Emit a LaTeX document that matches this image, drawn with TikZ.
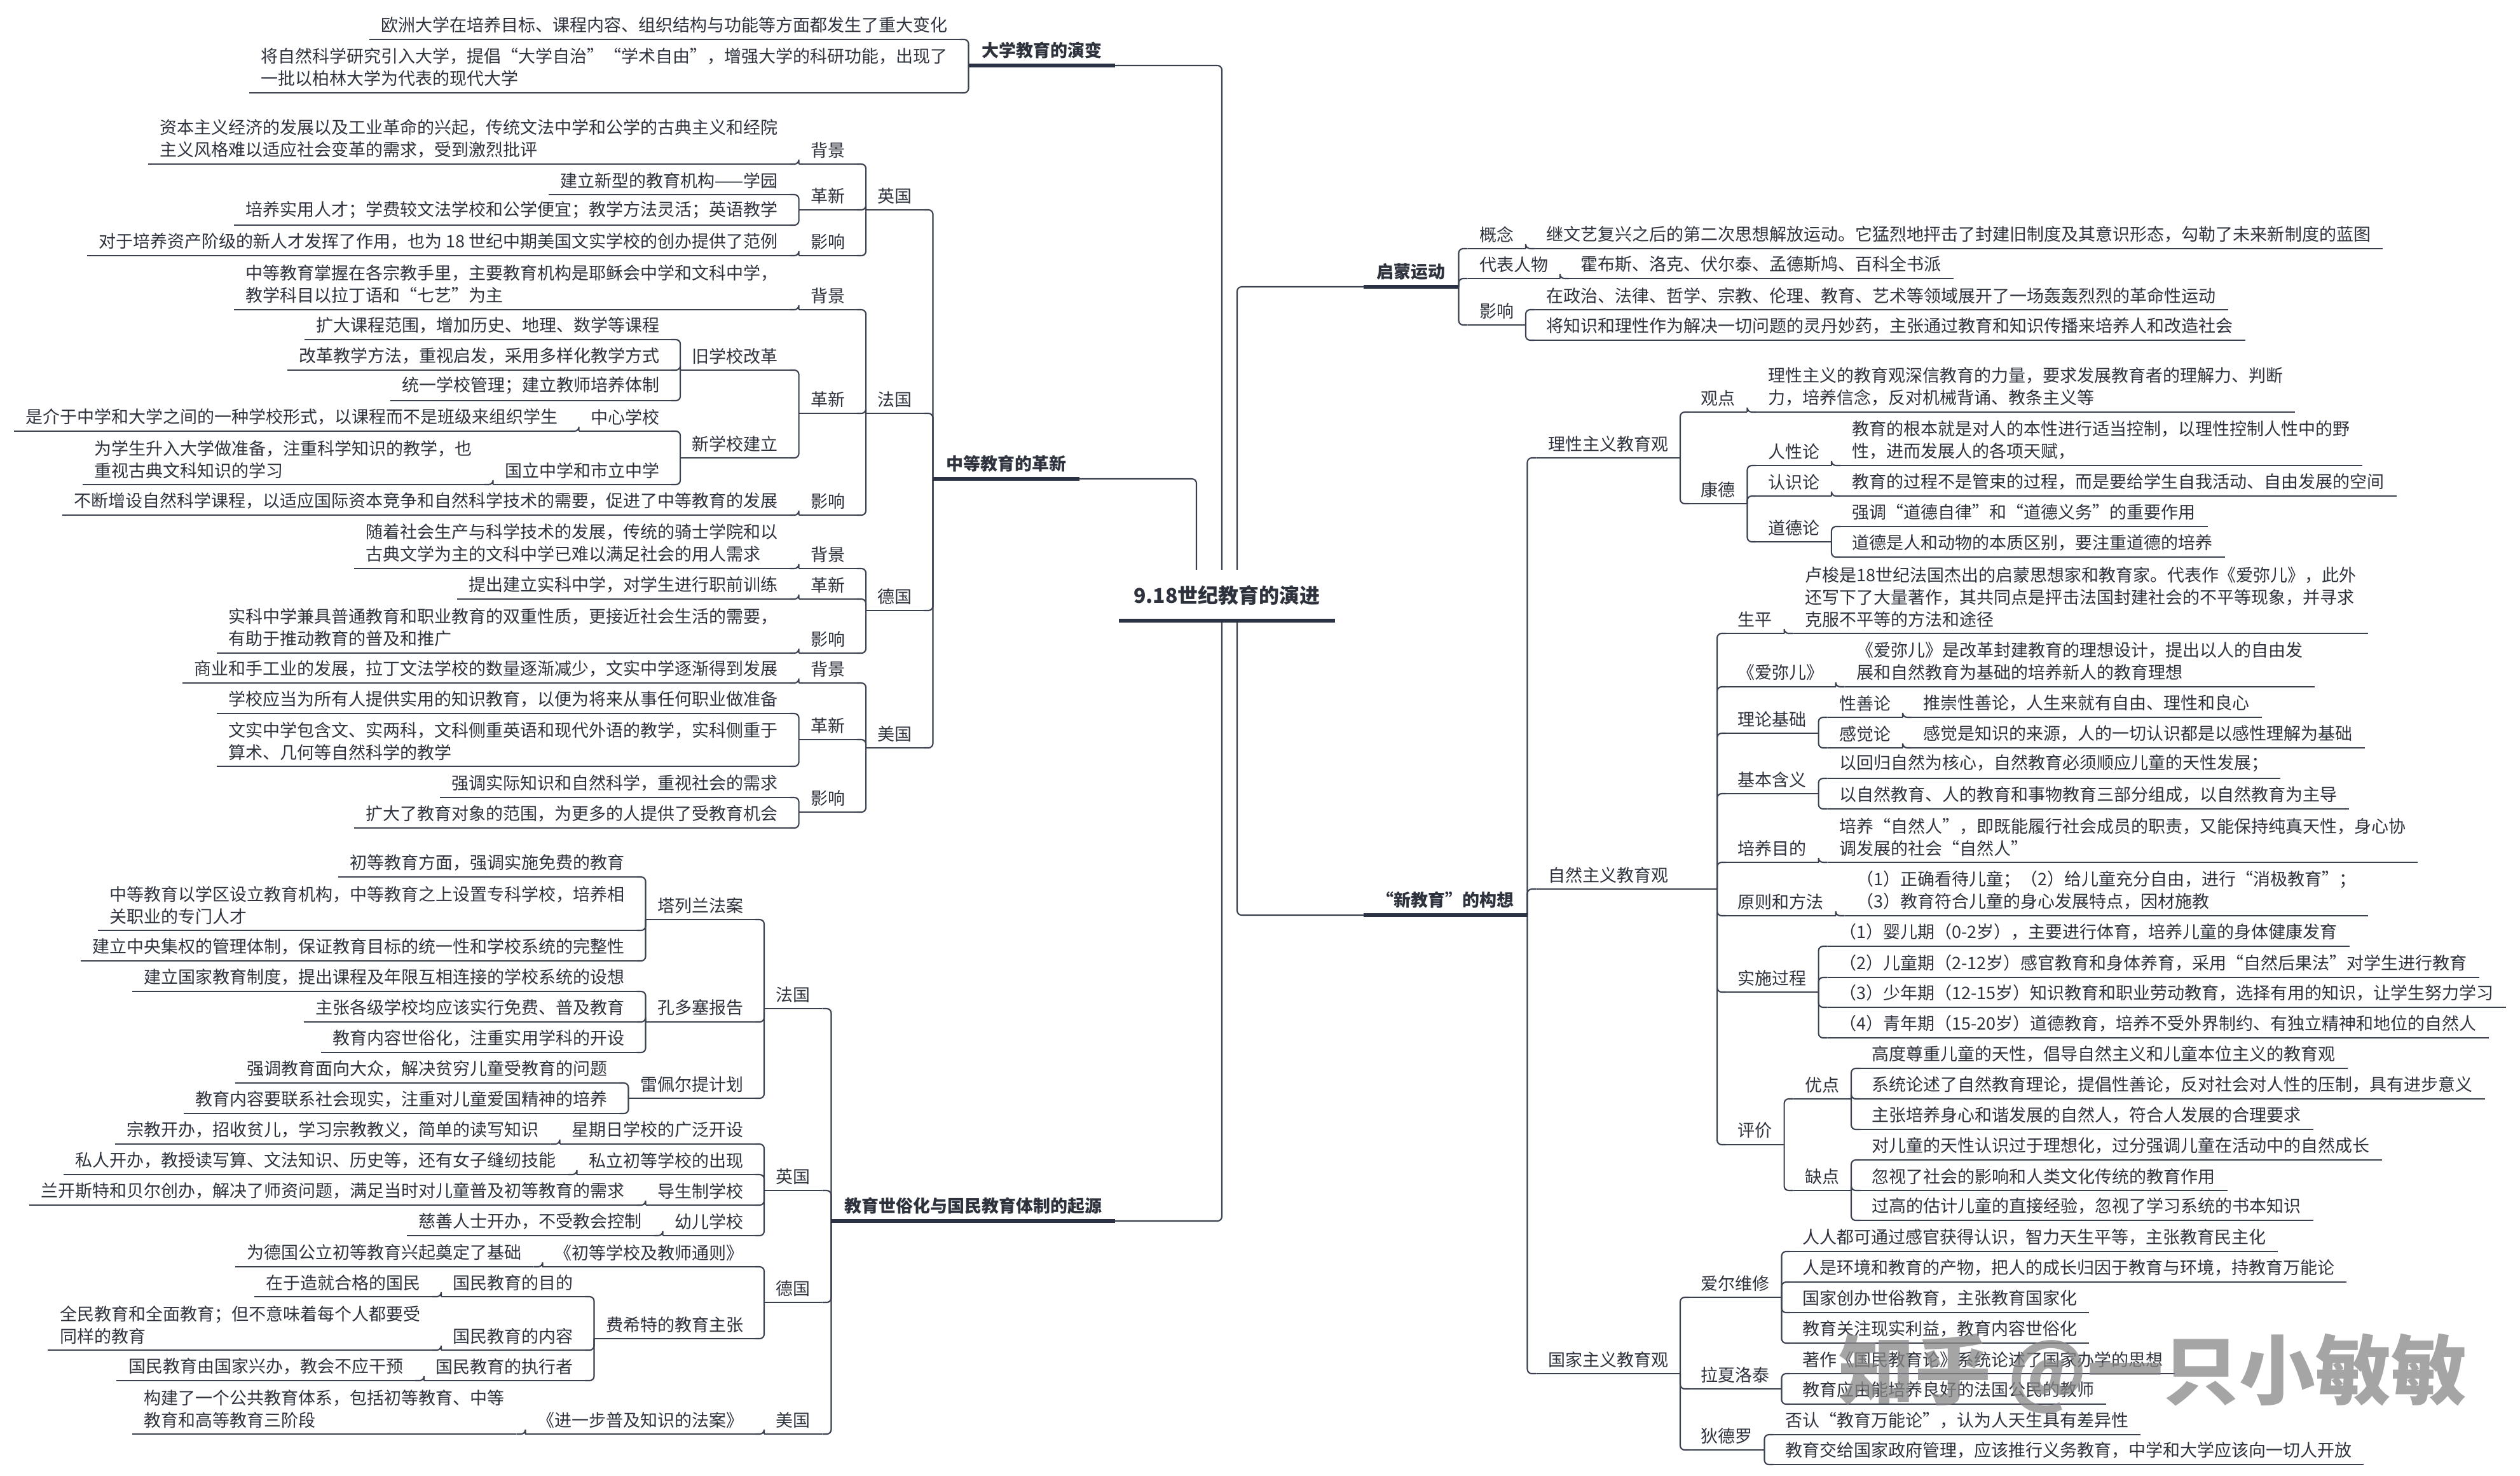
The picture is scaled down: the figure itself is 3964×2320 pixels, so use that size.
\documentclass[tikz,border=0pt]{standalone}
\usepackage{fontspec}
\setmainfont{Noto Sans CJK SC}
\usepackage{xcolor}
\definecolor{InkDark}  {RGB}{46, 50, 60}
\definecolor{LineDark} {RGB}{58, 64, 78}
\definecolor{BarNavy}  {RGB}{42, 50, 68}
\definecolor{MarkGray} {RGB}{135,135,135}
\usepackage{tikz}
\usetikzlibrary{positioning, backgrounds}

\begin{document}
\begin{tikzpicture}[
  x=0.01cm, y=-0.01cm,
  font=\fontsize{7.68pt}{9.96pt}\selectfont,
  text=InkDark,
  link/.style={draw=LineDark, line width=0.6pt, rounded corners=2pt},
  uline/.style={append after command={(\tikzlastnode.south west) edge[link] (\tikzlastnode.south east)}},
  ubar/.style={append after command={(\tikzlastnode.south west) edge[draw=BarNavy, line width=1.7pt] (\tikzlastnode.south east)}},
  lf/.style={anchor=south east, xshift=-0.14cm, inner xsep=0.18cm, inner ysep=0.09cm, align=left, uline},
  rt/.style={anchor=south west, xshift=0.14cm, inner xsep=0.18cm, inner ysep=0.09cm, align=left, uline},
  lhead/.style={anchor=south east, inner xsep=0.2cm, inner ysep=0.1cm,
    font=\bfseries\fontsize{7.68pt}{9.96pt}\selectfont, ubar},
  rhead/.style={anchor=south west, inner xsep=0.2cm, inner ysep=0.1cm,
    font=\bfseries\fontsize{7.68pt}{9.96pt}\selectfont, ubar},
  hub/.style={anchor=south, fill=white, minimum width=3.39cm, minimum height=0.79cm,
    font=\bfseries\fontsize{9.1pt}{11pt}\selectfont, ubar},
  wmark/.style={anchor=west, text=MarkGray, text opacity=0.75,
    font=\bfseries\fontsize{34pt}{40pt}\selectfont}
]
\useasboundingbox (0,0) rectangle (3964,2320);

% 中心主题
\node[hub] (root) at (1930,976) {9.18世纪教育的演进};

\node[lhead] (uni) at (1754,103) {大学教育的演变};
\node[lhead] (sec) at (1698,753) {中等教育的革新};
\node[lhead] (sys) at (1754,1920) {教育世俗化与国民教育体制的起源};
\node[rhead] (enl) at (2145,451) {启蒙运动};
\node[rhead, minimum width=2.55cm] (neo) at (2145,1439) {“新教育”的构想};

% 大学教育的演变
\node[lf] (uni1) at (uni.south west |- 0,62) {欧洲大学在培养目标、课程内容、组织结构与功能等方面都发生了重大变化};
\node[lf] (uni2) at (uni.south west |- 0,146) {将自然科学研究引入大学，提倡“大学自治”“学术自由”，增强大学的科研功能，出现了\\一批以柏林大学为代表的现代大学};

% 中等教育的革新：英国
\node[lf] (sEn) at (sec.south west |- 0,330) {英国};
\node[lf] (sEnBg) at (sEn.south west |- 0,258) {背景};
\node[lf] (sEnBg1) at (sEnBg.south west |- 0,258) {资本主义经济的发展以及工业革命的兴起，传统文法中学和公学的古典主义和经院\\主义风格难以适应社会变革的需求，受到激烈批评};
\node[lf] (sEnRf) at (sEn.south west |- 0,330) {革新};
\node[lf] (sEnRf1) at (sEnRf.south west |- 0,306) {建立新型的教育机构——学园};
\node[lf] (sEnRf2) at (sEnRf.south west |- 0,354) {培养实用人才；学费较文法学校和公学便宜；教学方法灵活；英语教学};
\node[lf] (sEnEf) at (sEn.south west |- 0,402) {影响};
\node[lf] (sEnEf1) at (sEnEf.south west |- 0,402) {对于培养资产阶级的新人才发挥了作用，也为 18 世纪中期美国文实学校的创办提供了范例};

% 中等教育的革新：法国
\node[lf] (sFr) at (sec.south west |- 0,650) {法国};
\node[lf] (sFrBg) at (sFr.south west |- 0,487) {背景};
\node[lf] (sFrBg1) at (sFrBg.south west |- 0,487) {中等教育掌握在各宗教手里，主要教育机构是耶稣会中学和文科中学，\\教学科目以拉丁语和“七艺”为主};
\node[lf] (sFrRf) at (sFr.south west |- 0,650) {革新};
\node[lf] (sFrOld) at (sFrRf.south west |- 0,582) {旧学校改革};
\node[lf] (sFrOld1) at (sFrOld.south west |- 0,534) {扩大课程范围，增加历史、地理、数学等课程};
\node[lf] (sFrOld2) at (sFrOld.south west |- 0,582) {改革教学方法，重视启发，采用多样化教学方式};
\node[lf] (sFrOld3) at (sFrOld.south west |- 0,630) {统一学校管理；建立教师培养体制};
\node[lf] (sFrNew) at (sFrRf.south west |- 0,720) {新学校建立};
\node[lf] (sFrCen) at (sFrNew.south west |- 0,678) {中心学校};
\node[lf] (sFrCen1) at (sFrCen.south west |- 0,678) {是介于中学和大学之间的一种学校形式，以课程而不是班级来组织学生};
\node[lf] (sFrNat) at (sFrNew.south west |- 0,762) {国立中学和市立中学};
\node[lf] (sFrNat1) at (sFrNat.south west |- 0,762) {为学生升入大学做准备，注重科学知识的教学，也\\重视古典文科知识的学习};
\node[lf] (sFrEf) at (sFr.south west |- 0,810) {影响};
\node[lf] (sFrEf1) at (sFrEf.south west |- 0,810) {不断增设自然科学课程，以适应国际资本竞争和自然科学技术的需要，促进了中等教育的发展};

% 中等教育的革新：德国
\node[lf] (sDe) at (sec.south west |- 0,960) {德国};
\node[lf] (sDeBg) at (sDe.south west |- 0,894) {背景};
\node[lf] (sDeBg1) at (sDeBg.south west |- 0,894) {随着社会生产与科学技术的发展，传统的骑士学院和以\\古典文学为主的文科中学已难以满足社会的用人需求};
\node[lf] (sDeRf) at (sDe.south west |- 0,942) {革新};
\node[lf] (sDeRf1) at (sDeRf.south west |- 0,942) {提出建立实科中学，对学生进行职前训练};
\node[lf] (sDeEf) at (sDe.south west |- 0,1027) {影响};
\node[lf] (sDeEf1) at (sDeEf.south west |- 0,1027) {实科中学兼具普通教育和职业教育的双重性质，更接近社会生活的需要，\\有助于推动教育的普及和推广};

% 中等教育的革新：美国
\node[lf] (sUs) at (sec.south west |- 0,1176) {美国};
\node[lf] (sUsBg) at (sUs.south west |- 0,1074) {背景};
\node[lf] (sUsBg1) at (sUsBg.south west |- 0,1074) {商业和手工业的发展，拉丁文法学校的数量逐渐减少，文实中学逐渐得到发展};
\node[lf] (sUsRf) at (sUs.south west |- 0,1163) {革新};
\node[lf] (sUsRf1) at (sUsRf.south west |- 0,1122) {学校应当为所有人提供实用的知识教育，以便为将来从事任何职业做准备};
\node[lf] (sUsRf2) at (sUsRf.south west |- 0,1205) {文实中学包含文、实两科，文科侧重英语和现代外语的教学，实科侧重于\\算术、几何等自然科学的教学};
\node[lf] (sUsEf) at (sUs.south west |- 0,1277) {影响};
\node[lf] (sUsEf1) at (sUsEf.south west |- 0,1254) {强调实际知识和自然科学，重视社会的需求};
\node[lf] (sUsEf2) at (sUsEf.south west |- 0,1302) {扩大了教育对象的范围，为更多的人提供了受教育机会};

% 教育世俗化：法国
\node[lf] (nFr) at (sys.south west |- 0,1586) {法国};
\node[lf] (nFrTal) at (nFr.south west |- 0,1446) {塔列兰法案};
\node[lf] (nFrTal1) at (nFrTal.south west |- 0,1379) {初等教育方面，强调实施免费的教育};
\node[lf] (nFrTal2) at (nFrTal.south west |- 0,1463) {中等教育以学区设立教育机构，中等教育之上设置专科学校，培养相\\关职业的专门人才};
\node[lf] (nFrTal3) at (nFrTal.south west |- 0,1511) {建立中央集权的管理体制，保证教育目标的统一性和学校系统的完整性};
\node[lf] (nFrCon) at (nFr.south west |- 0,1607) {孔多塞报告};
\node[lf] (nFrCon1) at (nFrCon.south west |- 0,1559) {建立国家教育制度，提出课程及年限互相连接的学校系统的设想};
\node[lf] (nFrCon2) at (nFrCon.south west |- 0,1607) {主张各级学校均应该实行免费、普及教育};
\node[lf] (nFrCon3) at (nFrCon.south west |- 0,1655) {教育内容世俗化，注重实用学科的开设};
\node[lf] (nFrLep) at (nFr.south west |- 0,1727) {雷佩尔提计划};
\node[lf] (nFrLep1) at (nFrLep.south west |- 0,1703) {强调教育面向大众，解决贫穷儿童受教育的问题};
\node[lf] (nFrLep2) at (nFrLep.south west |- 0,1751) {教育内容要联系社会现实，注重对儿童爱国精神的培养};

% 教育世俗化：英国
\node[lf] (nEn) at (sys.south west |- 0,1872) {英国};
\node[lf] (nEnSun) at (nEn.south west |- 0,1799) {星期日学校的广泛开设};
\node[lf] (nEnSun1) at (nEnSun.south west |- 0,1799) {宗教开办，招收贫儿，学习宗教教义，简单的读写知识};
\node[lf] (nEnPri) at (nEn.south west |- 0,1847) {私立初等学校的出现};
\node[lf] (nEnPri1) at (nEnPri.south west |- 0,1847) {私人开办，教授读写算、文法知识、历史等，还有女子缝纫技能};
\node[lf] (nEnMon) at (nEn.south west |- 0,1895) {导生制学校};
\node[lf] (nEnMon1) at (nEnMon.south west |- 0,1895) {兰开斯特和贝尔创办，解决了师资问题，满足当时对儿童普及初等教育的需求};
\node[lf] (nEnInf) at (nEn.south west |- 0,1943) {幼儿学校};
\node[lf] (nEnInf1) at (nEnInf.south west |- 0,1943) {慈善人士开办，不受教会控制};

% 教育世俗化：德国、美国
\node[lf] (nDe) at (sys.south west |- 0,2048) {德国};
\node[lf] (nDeReg) at (nDe.south west |- 0,1992) {《初等学校及教师通则》};
\node[lf] (nDeReg1) at (nDeReg.south west |- 0,1992) {为德国公立初等教育兴起奠定了基础};
\node[lf] (nDeFi) at (nDe.south west |- 0,2105) {费希特的教育主张};
\node[lf] (nDeFiA) at (nDeFi.south west |- 0,2039) {国民教育的目的};
\node[lf] (nDeFiA1) at (nDeFiA.south west |- 0,2039) {在于造就合格的国民};
\node[lf] (nDeFiB) at (nDeFi.south west |- 0,2123) {国民教育的内容};
\node[lf] (nDeFiB1) at (nDeFiB.south west |- 0,2123) {全民教育和全面教育；但不意味着每个人都要受\\同样的教育};
\node[lf] (nDeFiC) at (nDeFi.south west |- 0,2171) {国民教育的执行者};
\node[lf] (nDeFiC1) at (nDeFiC.south west |- 0,2171) {国民教育由国家兴办，教会不应干预};
\node[lf] (nUs) at (sys.south west |- 0,2255) {美国};
\node[lf] (nUsAct) at (nUs.south west |- 0,2255) {《进一步普及知识的法案》};
\node[lf] (nUsAct1) at (nUsAct.south west |- 0,2255) {构建了一个公共教育体系，包括初等教育、中等\\教育和高等教育三阶段};

% 启蒙运动
\node[rt] (enlC) at (enl.south east |- 0,391) {概念};
\node[rt] (enlC1) at (enlC.south east |- 0,391) {继文艺复兴之后的第二次思想解放运动。它猛烈地抨击了封建旧制度及其意识形态，勾勒了未来新制度的蓝图};
\node[rt] (enlP) at (enl.south east |- 0,438) {代表人物};
\node[rt] (enlP1) at (enlP.south east |- 0,438) {霍布斯、洛克、伏尔泰、孟德斯鸠、百科全书派};
\node[rt] (enlI) at (enl.south east |- 0,511) {影响};
\node[rt] (enlI1) at (enlI.south east |- 0,487) {在政治、法律、哲学、宗教、伦理、教育、艺术等领域展开了一场轰轰烈烈的革命性运动};
\node[rt] (enlI2) at (enlI.south east |- 0,535) {将知识和理性作为解决一切问题的灵丹妙药，主张通过教育和知识传播来培养人和改造社会};

% 理性主义教育观
\node[rt] (rat) at (neo.south east |- 0,720) {理性主义教育观};
\node[rt] (ratV) at (rat.south east |- 0,648) {观点};
\node[rt] (ratV1) at (ratV.south east |- 0,648) {理性主义的教育观深信教育的力量，要求发展教育者的理解力、判断\\力，培养信念，反对机械背诵、教条主义等};
\node[rt] (ratK) at (rat.south east |- 0,792) {康德};
\node[rt] (ratKh) at (ratK.south east |- 0,732) {人性论};
\node[rt] (ratKh1) at (ratKh.south east |- 0,732) {教育的根本就是对人的本性进行适当控制，以理性控制人性中的野\\性，进而发展人的各项天赋，};
\node[rt] (ratKe) at (ratK.south east |- 0,780) {认识论};
\node[rt] (ratKe1) at (ratKe.south east |- 0,780) {教育的过程不是管束的过程，而是要给学生自我活动、自由发展的空间};
\node[rt] (ratKm) at (ratK.south east |- 0,852) {道德论};
\node[rt] (ratKm1) at (ratKm.south east |- 0,828) {强调“道德自律”和“道德义务”的重要作用};
\node[rt] (ratKm2) at (ratKm.south east |- 0,876) {道德是人和动物的本质区别，要注重道德的培养};

% 自然主义教育观
\node[rt, text width=2.47cm] (nat) at (neo.south east |- 0,1398) {自然主义教育观};
\node[rt] (natL) at (nat.south east |- 0,996) {生平};
\node[rt] (natL1) at (natL.south east |- 0,996) {卢梭是18世纪法国杰出的启蒙思想家和教育家。代表作《爱弥儿》，此外\\还写下了大量著作，其共同点是抨击法国封建社会的不平等现象，并寻求\\克服不平等的方法和途径};
\node[rt] (natE) at (nat.south east |- 0,1080) {《爱弥儿》};
\node[rt] (natE1) at (natE.south east |- 0,1080) {《爱弥儿》是改革封建教育的理想设计，提出以人的自由发\\展和自然教育为基础的培养新人的教育理想};
\node[rt] (natT) at (nat.south east |- 0,1153) {理论基础};
\node[rt] (natTg) at (natT.south east |- 0,1128) {性善论};
\node[rt] (natTg1) at (natTg.south east |- 0,1128) {推崇性善论，人生来就有自由、理性和良心};
\node[rt] (natTs) at (natT.south east |- 0,1176) {感觉论};
\node[rt] (natTs1) at (natTs.south east |- 0,1176) {感觉是知识的来源，人的一切认识都是以感性理解为基础};
\node[rt] (natM) at (nat.south east |- 0,1248) {基本含义};
\node[rt] (natM1) at (natM.south east |- 0,1224) {以回归自然为核心，自然教育必须顺应儿童的天性发展；};
\node[rt] (natM2) at (natM.south east |- 0,1272) {以自然教育、人的教育和事物教育三部分组成，以自然教育为主导};
\node[rt] (natG) at (nat.south east |- 0,1356) {培养目的};
\node[rt] (natG1) at (natG.south east |- 0,1356) {培养“自然人”，即既能履行社会成员的职责，又能保持纯真天性，身心协\\调发展的社会“自然人”};
\node[rt] (natP) at (nat.south east |- 0,1440) {原则和方法};
\node[rt] (natP1) at (natP.south east |- 0,1440) {（1）正确看待儿童；（2）给儿童充分自由，进行“消极教育”；\\（3）教育符合儿童的身心发展特点，因材施教};
\node[rt] (natI) at (nat.south east |- 0,1560) {实施过程};
\node[rt] (natI1) at (natI.south east |- 0,1488) {（1）婴儿期（0-2岁），主要进行体育，培养儿童的身体健康发育};
\node[rt] (natI2) at (natI.south east |- 0,1537) {（2）儿童期（2-12岁）感官教育和身体养育，采用“自然后果法”对学生进行教育};
\node[rt] (natI3) at (natI.south east |- 0,1584) {（3）少年期（12-15岁）知识教育和职业劳动教育，选择有用的知识，让学生努力学习};
\node[rt] (natI4) at (natI.south east |- 0,1632) {（4）青年期（15-20岁）道德教育，培养不受外界制约、有独立精神和地位的自然人};
\node[rt] (natR) at (nat.south east |- 0,1800) {评价};
\node[rt] (natRp) at (natR.south east |- 0,1728) {优点};
\node[rt] (natRp1) at (natRp.south east |- 0,1680) {高度尊重儿童的天性，倡导自然主义和儿童本位主义的教育观};
\node[rt] (natRp2) at (natRp.south east |- 0,1728) {系统论述了自然教育理论，提倡性善论，反对社会对人性的压制，具有进步意义};
\node[rt] (natRp3) at (natRp.south east |- 0,1776) {主张培养身心和谐发展的自然人，符合人发展的合理要求};
\node[rt] (natRn) at (natR.south east |- 0,1872) {缺点};
\node[rt] (natRn1) at (natRn.south east |- 0,1824) {对儿童的天性认识过于理想化，过分强调儿童在活动中的自然成长};
\node[rt] (natRn2) at (natRn.south east |- 0,1872) {忽视了社会的影响和人类文化传统的教育作用};
\node[rt] (natRn3) at (natRn.south east |- 0,1919) {过高的估计儿童的直接经验，忽视了学习系统的书本知识};

% 国家主义教育观
\node[rt] (sta) at (neo.south east |- 0,2160) {国家主义教育观};
\node[rt] (staH) at (sta.south east |- 0,2040) {爱尔维修};
\node[rt] (staH1) at (staH.south east |- 0,1968) {人人都可通过感官获得认识，智力天生平等，主张教育民主化};
\node[rt] (staH2) at (staH.south east |- 0,2016) {人是环境和教育的产物，把人的成长归因于教育与环境，持教育万能论};
\node[rt] (staH3) at (staH.south east |- 0,2064) {国家创办世俗教育，主张教育国家化};
\node[rt] (staH4) at (staH.south east |- 0,2112) {教育关注现实利益，教育内容世俗化};
\node[rt] (staL) at (sta.south east |- 0,2184) {拉夏洛泰};
\node[rt] (staL1) at (staL.south east |- 0,2160) {著作《国民教育论》系统论述了国家办学的思想};
\node[rt] (staL2) at (staL.south east |- 0,2208) {教育应由能培养良好的法国公民的教师};
\node[rt] (staD) at (sta.south east |- 0,2280) {狄德罗};
\node[rt] (staD1) at (staD.south east |- 0,2256) {否认“教育万能论”，认为人天生具有差异性};
\node[rt] (staD2) at (staD.south east |- 0,2303) {教育交给国家政府管理，应该推行义务教育，中学和大学应该向一切人开放};

% 连线
\begin{scope}[on background layer]
  \draw[link] (uni.south east) -| ([xshift=-0.08cm]root.south);
  \draw[link] (sec.south east) -| ([xshift=-0.48cm]root.south);
  \draw[link] (sys.south east) -| ([xshift=-0.08cm]root.south);
  \draw[link] (enl.south west) -| ([xshift=0.16cm]root.south);
  \draw[link] (neo.south west) -| ([xshift=0.16cm]root.south);
  \foreach \c/\p in {uni1/uni, uni2/uni,
      sEn/sec, sEnBg/sEn, sEnBg1/sEnBg, sEnRf/sEn, sEnRf1/sEnRf, sEnRf2/sEnRf, sEnEf/sEn, sEnEf1/sEnEf,
      sFr/sec, sFrBg/sFr, sFrBg1/sFrBg, sFrRf/sFr, sFrOld/sFrRf, sFrOld1/sFrOld, sFrOld2/sFrOld,
      sFrOld3/sFrOld, sFrNew/sFrRf, sFrCen/sFrNew, sFrCen1/sFrCen, sFrNat/sFrNew, sFrNat1/sFrNat,
      sFrEf/sFr, sFrEf1/sFrEf,
      sDe/sec, sDeBg/sDe, sDeBg1/sDeBg, sDeRf/sDe, sDeRf1/sDeRf, sDeEf/sDe, sDeEf1/sDeEf,
      sUs/sec, sUsBg/sUs, sUsBg1/sUsBg, sUsRf/sUs, sUsRf1/sUsRf, sUsRf2/sUsRf, sUsEf/sUs,
      sUsEf1/sUsEf, sUsEf2/sUsEf,
      nFr/sys, nFrTal/nFr, nFrTal1/nFrTal, nFrTal2/nFrTal, nFrTal3/nFrTal, nFrCon/nFr,
      nFrCon1/nFrCon, nFrCon2/nFrCon, nFrCon3/nFrCon, nFrLep/nFr, nFrLep1/nFrLep, nFrLep2/nFrLep,
      nEn/sys, nEnSun/nEn, nEnSun1/nEnSun, nEnPri/nEn, nEnPri1/nEnPri, nEnMon/nEn, nEnMon1/nEnMon,
      nEnInf/nEn, nEnInf1/nEnInf,
      nDe/sys, nDeReg/nDe, nDeReg1/nDeReg, nDeFi/nDe, nDeFiA/nDeFi, nDeFiA1/nDeFiA, nDeFiB/nDeFi,
      nDeFiB1/nDeFiB, nDeFiC/nDeFi, nDeFiC1/nDeFiC,
      nUs/sys, nUsAct/nUs, nUsAct1/nUsAct}
    \draw[link] (\c.south east) -| (\p.south west);
  \foreach \c/\p in {enlC/enl, enlC1/enlC, enlP/enl, enlP1/enlP, enlI/enl, enlI1/enlI, enlI2/enlI,
      rat/neo, ratV/rat, ratV1/ratV, ratK/rat, ratKh/ratK, ratKh1/ratKh, ratKe/ratK, ratKe1/ratKe,
      ratKm/ratK, ratKm1/ratKm, ratKm2/ratKm,
      nat/neo, natL/nat, natL1/natL, natE/nat, natE1/natE, natT/nat, natTg/natT, natTg1/natTg,
      natTs/natT, natTs1/natTs, natM/nat, natM1/natM, natM2/natM, natG/nat, natG1/natG, natP/nat,
      natP1/natP, natI/nat, natI1/natI, natI2/natI, natI3/natI, natI4/natI, natR/nat, natRp/natR,
      natRp1/natRp, natRp2/natRp, natRp3/natRp, natRn/natR, natRn1/natRn, natRn2/natRn, natRn3/natRn,
      sta/neo, staH/sta, staH1/staH, staH2/staH, staH3/staH, staH4/staH, staL/sta, staL1/staL,
      staL2/staL, staD/sta, staD1/staD, staD2/staD}
    \draw[link] (\c.south west) -| (\p.south east);
\end{scope}

% 水印
\node[wmark] (mark) at (2880,2160) {知乎 @一只小敏敏};
\end{tikzpicture}
\end{document}
